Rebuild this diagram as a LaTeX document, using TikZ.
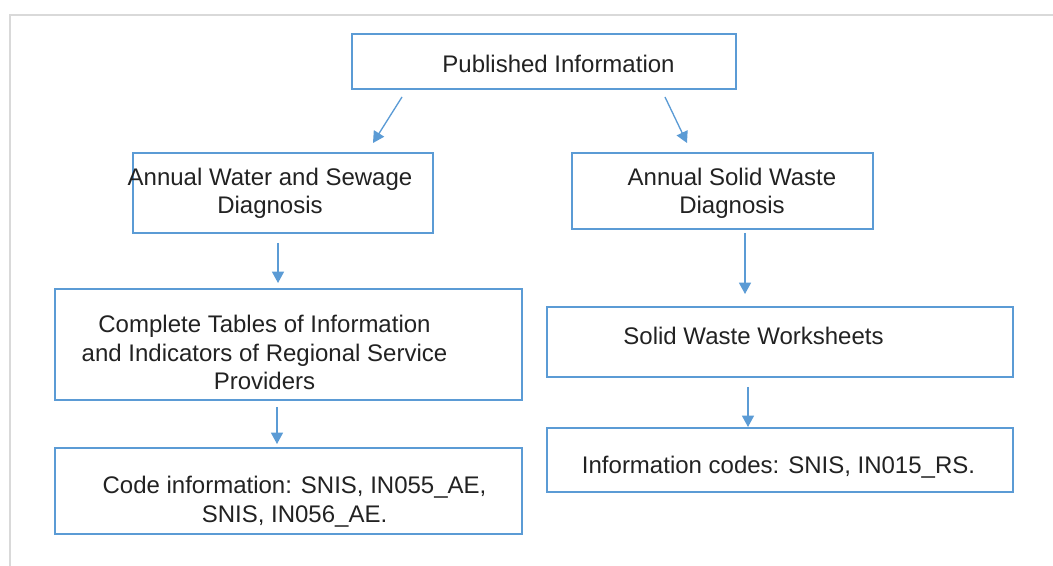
\documentclass[tikz,border=0pt]{standalone}
\usepackage{fontspec}
\setmainfont{Liberation Sans}
\usetikzlibrary{arrows.meta}
\definecolor{boxblue}{HTML}{5B9BD5}
\definecolor{framegray}{HTML}{D9D9D9}
\definecolor{txtcol}{HTML}{222222}
\begin{document}
\begin{tikzpicture}[x=0.75pt,y=-0.75pt,
  box/.style={draw=boxblue, line width=1.1pt, inner sep=0pt, outer sep=0pt},
  txt/.style={font=\fontsize{18}{21.5}\selectfont, text=txtcol, align=center, inner sep=0pt, anchor=base},
  arr/.style={draw=boxblue, line width=1pt, -{Triangle[width=9pt,length=8.5pt]}}]
\useasboundingbox (0,0) rectangle (1053,566);
\draw[framegray, line width=1.5pt] (10,566) -- (10,15) -- (1053,15);

% boxes
\node[box, minimum width=384*0.75pt, minimum height=55*0.75pt] (pub) at (544,61.5) {};
\node[box, minimum width=300*0.75pt, minimum height=80*0.75pt] (aws) at (283,193) {};
\node[box, minimum width=301*0.75pt, minimum height=76*0.75pt] (asw) at (722.5,191) {};
\node[box, minimum width=467*0.75pt, minimum height=111*0.75pt] (ctab) at (288.5,344.5) {};
\node[box, minimum width=467*0.75pt, minimum height=86*0.75pt] (code) at (288.5,491) {};
\node[box, minimum width=466*0.75pt, minimum height=70*0.75pt] (sww) at (780,342) {};
\node[box, minimum width=466*0.75pt, minimum height=64*0.75pt] (icode) at (780,460) {};

% texts (base anchor = baseline of the last line)
\node[txt] (pubt) at (558.5,73) {Published Information};
\node[txt] (awst) at (270,214) {Annual Water and Sewage\\Diagnosis};
\node[txt] (aswt) at (732,214) {Annual Solid Waste\\Diagnosis};
\node[txt] (ctabt) at (264.5,390) {Complete Tables of Information\\and Indicators of Regional Service\\Providers};
\node[txt] (codet) at (294.5,522) {Code information: SNIS, IN055\_AE,\\SNIS, IN056\_AE.};
\node[txt] (swwt) at (753.5,345) {Solid Waste Worksheets};
\node[txt] (icodet) at (778.5,473) {Information codes: SNIS, IN015\_RS.};

% arrow end points
\coordinate (a1s) at (402,97);  \coordinate (a1e) at (373,143);
\coordinate (a2s) at (665,97);  \coordinate (a2e) at (687,143);
\coordinate (a3s) at (278,243); \coordinate (a3e) at (278,283);
\coordinate (a4s) at (277,407); \coordinate (a4e) at (277,444);
\coordinate (a5s) at (745,233); \coordinate (a5e) at (745,294);
\coordinate (a6s) at (748,387); \coordinate (a6e) at (748,427);

\draw[arr] (a1s) -- (a1e);
\draw[arr] (a2s) -- (a2e);
\draw[arr] (a3s) -- (a3e);
\draw[arr] (a4s) -- (a4e);
\draw[arr] (a5s) -- (a5e);
\draw[arr] (a6s) -- (a6e);
\end{tikzpicture}
\end{document}
